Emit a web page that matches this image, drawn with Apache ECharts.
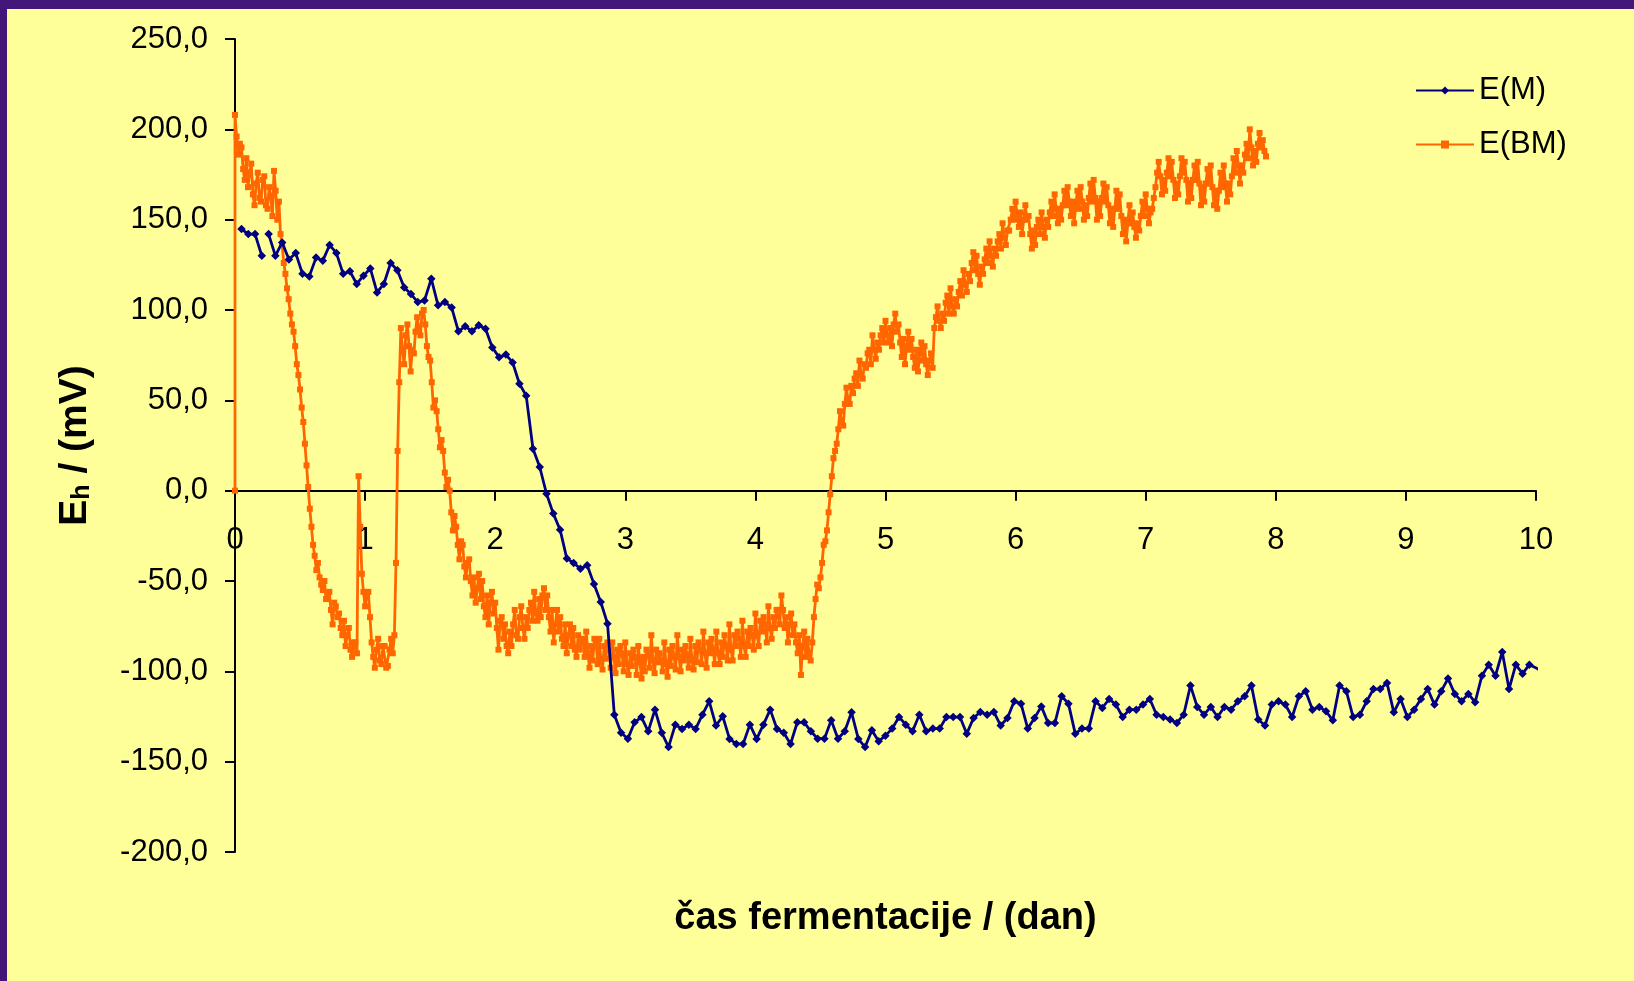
<!DOCTYPE html>
<html>
<head>
<meta charset="utf-8">
<title>Redoks potencial med fermentacijo</title>
<script src="https://cdn.jsdelivr.net/npm/echarts@6/dist/echarts.min.js"></script>
<style>
  html, body { margin: 0; padding: 0; background: #FFFF99; }
  #chart { width: 1634px; height: 981px; }
</style>
</head>
<body>
<div id="chart"></div>
<script>
// Axis ticks
const xTicks = [0, 1, 2, 3, 4, 5, 6, 7, 8, 9, 10];
const yTicks = [-200, -150, -100, -50, 0, 50, 100, 150, 200, 250];

// E(M): logged every ~75 min (0.0521 day), first reading at 0.05 day
const EM_START = 0.05;
const EM_STEP = 0.0521;
const EM_BREAK_AFTER = 3; // missing sample after the 4th reading
const emValues = [
  144.8, 142, 142, 130, 142, 130, 137.4, 128, 131.5, 120,
  118.6, 129, 127.3, 136, 131.5, 120, 121.4, 114.4, 119, 123,
  109.7, 114.4, 126, 122, 112.5, 108.8, 104.4, 105.3, 117.3, 102.6,
  104.4, 101.4, 88.2, 91, 88.2, 91.5, 89.6, 79.3, 73.8, 75.3,
  71, 59.2, 52.6,
  23.2, 13.1, -1.7, -12.7, -21.6, -37.6, -40, -43.2, -41.3, -51.6,
  -61.6, -73.6,
  -124, -134, -137.3, -128.2, -125.3, -133.2, -121.2, -134, -141.9, -129.5,
  -131.9, -129.5, -131.9, -124, -116.6, -130, -124.9, -137.4, -140.2, -140.2,
  -129.5, -137.4, -129.5, -121.2, -131.9, -134, -140.2, -128.2, -128.2, -133.2,
  -137.3, -137.3, -127.1, -137.3, -133.2, -122.7, -137.4, -141.9, -132.6, -138.7,
  -135.6, -131.7, -125.3, -129.5, -133.2, -124, -133.2, -131.7, -131.7, -125.3,
  -125.3, -125.3, -134.5, -125.8, -122.5, -124, -122.5, -130, -125.8, -116.6,
  -117.9, -131.7, -125.8, -119.4, -128.6, -128.6, -113.8, -117.9, -134.5, -131.7,
  -131.7, -116.6,
  -120.3, -115.3, -118.4, -125.3, -121.2, -121.2, -118.4, -115.3, -124, -125.3,
  -126.7, -128.6, -124, -107.9, -119.7, -124, -119.7, -125.3, -119.7, -121.2,
  -116.6, -113.8, -107.9, -126.7, -130, -118.4, -116.6, -118.4, -125.3, -113.8,
  -111, -121.2, -119.7, -122.1, -127.1, -107.9, -111, -125.3, -124, -116.6,
  -109.8, -109.8, -106.4, -122.7, -115.3, -125.3, -121.2, -115.3, -109.8, -118.4,
  -111, -104, -112.5, -116.6, -112.5, -117.1, -102.4, -96.3, -102.4, -89.3,
  -109.8, -96.3, -101.3, -96.3, -98.1, -100.5
];

// E(BM): reading before immersion, then samples every 0.0125 day from day 0
// (one row = 0.2 day)
const bmStart = [0, 0];
const BM_STEP = 0.0125;
const bmValues = [
  208, 196, 186, 192, 190, 178, 172, 184, 168, 176, 181, 164, 158, 170, 176, 162,
  160, 172, 174, 158, 156, 168, 163, 152, 177, 166, 150, 160, 142, 136, 126, 120,
  112, 106, 98, 92, 88, 80, 70, 64, 56, 46, 38, 26, 14, 2, -10, -20,
  -30, -36, -44, -40, -48, -52, -55, -50, -60, -58, -56, -66, -74, -62, -64, -70,
  -68, -76, -80, -72, -86, -80, -76, -88, -92, -84, -84, -90, 8, -20, -46, -56,
  -64, -58, -56, -70, -84, -92, -98, -88, -82, -94, -96, -86, -86, -98, -97, -88,
  -82, -90, -80, -40, 22, 60, 90, 78, 70, 86, 92, 80, 66, 78, 76, 88,
  96, 90, 86, 98, 100, 92, 80, 74, 72, 60, 46, 50, 44, 34, 24, 28,
  22, 10, 2, 6, 0, -12, -22, -14, -20, -30, -38, -28, -30, -42, -48, -40,
  -38, -50, -58, -48, -62, -54, -46, -60, -50, -64, -70, -58, -74, -62, -56, -68,
  -62, -76, -88, -72, -70, -82, -74, -86, -90, -78, -86, -74, -66, -80, -82, -70,
  -64, -76, -82, -70, -76, -66, -62, -72, -56, -68, -72, -60, -70, -58, -54, -66,
  -58, -70, -78, -66, -84, -74, -66, -78, -70, -82, -86, -74, -90, -80, -74, -86,
  -76, -88, -92, -80, -88, -84, -82, -92, -78, -90, -98, -86, -94, -82, -84, -96,
  -82, -94, -99, -86, -93, -84, -88, -98, -84, -92, -101, -88, -96, -86, -90, -100,
  -84, -96, -102, -90, -97, -88, -92, -102, -86, -95, -104, -92, -100, -88, -90, -98,
  -80, -94, -101, -88, -95, -90, -94, -100, -84, -96, -103, -88, -97, -86, -92, -99,
  -80, -92, -100, -88, -94, -86, -91, -98, -82, -94, -99, -86, -95, -84, -88, -96,
  -78, -90, -98, -84, -90, -82, -88, -96, -78, -90, -96, -84, -92, -80, -86, -94,
  -74, -88, -94, -80, -86, -78, -82, -92, -72, -86, -92, -78, -86, -76, -80, -88,
  -68, -80, -86, -72, -78, -70, -74, -84, -64, -76, -82, -70, -76, -66, -66, -74,
  -58, -66, -76, -70, -84, -74, -68, -80, -74, -84, -90, -80, -102, -86, -78, -92,
  -82, -90, -94, -84, -70, -60, -52, -54, -48, -40, -30, -28, -22, -12, -2, 8,
  18, 22, 26, 34, 44, 38, 36, 48, 57, 50, 48, 58, 54, 62, 65, 58,
  72, 64, 62, 70, 68, 76, 78, 70, 86, 78, 73, 82, 78, 86, 90, 82,
  94, 86, 82, 90, 80, 92, 98, 88, 92, 82, 74, 84, 70, 80, 88, 78,
  84, 74, 68, 78, 66, 76, 82, 72, 80, 70, 64, 72, 76, 68, 90, 96,
  102, 94, 90, 98, 94, 104, 108, 98, 112, 102, 98, 106, 102, 110, 116, 108,
  122, 114, 110, 120, 116, 126, 132, 122, 130, 120, 114, 124, 120, 128, 134, 126,
  138, 130, 124, 134, 130, 138, 142, 134, 148, 140, 136, 144, 144, 150, 156, 150,
  160, 152, 146, 154, 142, 150, 158, 150, 152, 142, 134, 144, 136, 146, 150, 142,
  154, 146, 140, 150, 146, 154, 160, 152, 164, 156, 148, 156, 150, 158, 166, 158,
  168, 160, 152, 160, 148, 158, 166, 156, 168, 160, 150, 158, 152, 162, 170, 160,
  172, 162, 150, 160, 152, 162, 170, 160, 168, 158, 148, 156, 146, 156, 166, 156,
  164, 152, 142, 150, 138, 148, 158, 148, 154, 146, 140, 148, 144, 152, 160, 152,
  164, 156, 148, 154, 156, 162, 168, 176, 182, 174, 164, 172, 166, 176, 184, 174,
  182, 172, 162, 170, 164, 174, 184, 176, 182, 172, 160, 170, 162, 172, 180, 172,
  182, 170, 158, 168, 160, 170, 178, 170, 180, 168, 158, 166, 156, 166, 176, 168,
  180, 170, 160, 170, 164, 174, 184, 176, 188, 180, 170, 180, 176, 186, 192, 184,
  200, 190, 180, 188, 182, 192, 198, 190, 194, 188, 185
];

const FONT = "'Liberation Sans', Arial, sans-serif";

const emData = [];
emValues.forEach((v, i) => {
  emData.push([EM_START + i * EM_STEP, v]);
  if (i === EM_BREAK_AFTER) emData.push([EM_START + (i + 0.5) * EM_STEP, null]);
});
const bmData = [bmStart].concat(bmValues.map((v, i) => [i * BM_STEP, v]));

const fmtComma = v => v.toFixed(1).replace('.', ',');

const chart = echarts.init(document.getElementById('chart'), null, { renderer: 'canvas' });
chart.setOption({
  animation: false,
  backgroundColor: '#FFFF99',
  graphic: [
    { type: 'rect', left: 0, top: 0, shape: { width: 1634, height: 9 }, style: { fill: '#43167a' }, silent: true },
    { type: 'rect', left: 0, top: 0, shape: { width: 7, height: 981 }, style: { fill: '#43167a' }, silent: true }
  ],
  grid: { left: 235, right: 98, top: 39, bottom: 129, containLabel: false, outerBoundsMode: 'none' },
  legend: {
    orient: 'vertical',
    left: 1410,
    top: 70,
    itemWidth: 58,
    itemHeight: 10,
    itemGap: 23,
    textStyle: { fontFamily: FONT, fontSize: 31, color: '#000' },
    data: ['E(M)', 'E(BM)']
  },
  xAxis: {
    type: 'value',
    min: xTicks[0],
    max: xTicks[xTicks.length - 1],
    interval: 1,
    axisLine: { onZero: true, lineStyle: { color: '#000', width: 2 } },
    axisTick: { inside: false, length: 10, lineStyle: { color: '#000', width: 2 } },
    // labels sit just under the zero line
    axisLabel: { margin: -327, fontFamily: FONT, fontSize: 31, color: '#000' },
    splitLine: { show: false },
    name: 'čas fermentacije / (dan)',
    nameLocation: 'middle',
    nameGap: 48,
    nameTextStyle: { fontFamily: FONT, fontSize: 38, fontWeight: 'bold', color: '#000' }
  },
  yAxis: {
    type: 'value',
    min: yTicks[0],
    max: yTicks[yTicks.length - 1],
    interval: 50,
    axisLine: { onZero: false, lineStyle: { color: '#000', width: 2 } },
    axisTick: { inside: false, length: 10, lineStyle: { color: '#000', width: 2 } },
    axisLabel: { margin: 27, fontFamily: FONT, fontSize: 31, color: '#000', formatter: fmtComma },
    splitLine: { show: false },
    name: '{e|E}{s|h}{e| / (mV)}',
    nameLocation: 'middle',
    nameRotate: 90,
    nameGap: 140,
    nameTextStyle: {
      rich: {
        e: { fontFamily: FONT, fontSize: 39, fontWeight: 'bold', color: '#000', verticalAlign: 'bottom', lineHeight: 40 },
        s: { fontFamily: FONT, fontSize: 25, fontWeight: 'bold', color: '#000', verticalAlign: 'bottom', lineHeight: 40 }
      }
    }
  },
  series: [
    {
      name: 'E(M)',
      type: 'line',
      data: emData,
      z: 3,
      color: '#000080',
      symbol: 'diamond',
      symbolSize: 8.5,
      showAllSymbol: true,
      lineStyle: { color: '#000080', width: 2.8 },
      itemStyle: { color: '#000080' },
      connectNulls: false
    },
    {
      name: 'E(BM)',
      type: 'line',
      data: bmData,
      z: 2,
      color: '#FF6600',
      symbol: 'rect',
      symbolSize: 6,
      showAllSymbol: true,
      lineStyle: { color: '#FF6600', width: 2.8 },
      itemStyle: { color: '#FF6600' }
    }
  ]
});
</script>
</body>
</html>
